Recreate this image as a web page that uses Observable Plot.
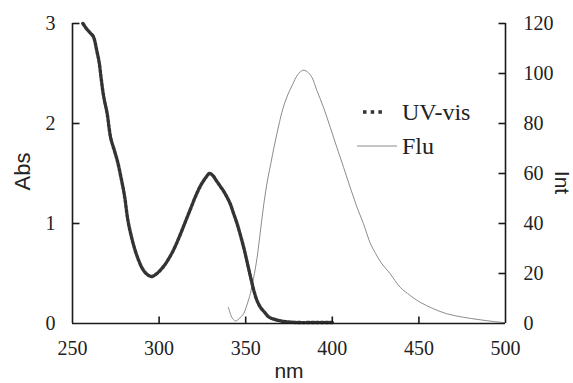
<!DOCTYPE html>
<html>
<head>
<meta charset="utf-8">
<script src="https://cdn.jsdelivr.net/npm/d3@7"></script>
<script src="https://cdn.jsdelivr.net/npm/@observablehq/plot@0.6"></script>
<style>
  html, body { margin: 0; padding: 0; background: #fff; }
  #wrap { position: relative; width: 573px; height: 383px; overflow: hidden; }
  #legend { position: absolute; left: 0; top: 0; width: 573px; height: 383px; pointer-events: none; }
</style>
</head>
<body>
<div id="wrap"></div>
<script>
// UV-vis absorption (Abs) vs wavelength (nm)
const uvNm  = [256, 258, 260, 262, 264, 265.4, 266.7, 268, 270, 272, 274, 276, 278, 280, 282, 284, 286, 288, 290, 292, 294, 296, 298, 300, 303, 306, 309, 312, 315, 318, 321, 324, 327, 329, 331, 333, 335, 337, 339, 341, 343, 345, 347, 349, 351, 353, 355, 357, 359, 361, 363, 365, 367, 369, 372, 380, 390, 400];
const uvAbs = [3.0, 2.95, 2.91, 2.87, 2.73, 2.61, 2.43, 2.27, 2.10, 1.86, 1.74, 1.62, 1.46, 1.28, 1.03, 0.87, 0.74, 0.64, 0.56, 0.51, 0.48, 0.47, 0.49, 0.52, 0.58, 0.66, 0.76, 0.88, 1.01, 1.14, 1.27, 1.38, 1.46, 1.50, 1.48, 1.43, 1.38, 1.33, 1.27, 1.20, 1.10, 1.00, 0.88, 0.75, 0.60, 0.45, 0.31, 0.21, 0.15, 0.11, 0.07, 0.05, 0.04, 0.03, 0.02, 0.01, 0.01, 0.01];

// Fluorescence intensity (Int) vs wavelength (nm)
const fluNm  = [340, 342, 344, 346, 348.8, 350.5, 352.7, 354.5, 356.5, 358.5, 360.5, 362.5, 364.5, 366.5, 369, 371.5, 374, 377, 380, 383, 385.5, 388.2, 391.1, 394.9, 398.8, 402.6, 406.5, 410.3, 414, 418, 422, 425, 428, 433.4, 439.2, 445, 450.7, 458.4, 466.1, 475.7, 485.3, 493, 500];
const fluInt = [6.5, 2.5, 1.0, 1.8, 3.9, 7, 12, 18, 26, 37, 48, 57, 64, 71, 79, 86, 91, 95.5, 99.5, 101.3, 100.7, 98.5, 93.2, 86.5, 78.5, 70.5, 62.5, 54.5, 47, 39.9, 32, 28, 24.5, 19.9, 14.5, 11.2, 8.5, 5.9, 3.9, 2.5, 1.5, 0.8, 0.3];

const xTicks   = [250, 300, 350, 400, 450, 500];
const absTicks = [0, 1, 2, 3];
const intTicks = [0, 20, 40, 60, 80, 100, 120];
const absMax = 3, intMax = 120;

const W = 573, H = 383, mL = 72, mR = 68, mT = 23, mB = 60;
const xDomain = [250, 500], yDomain = [0, absMax];

const uv  = uvNm.map((x, i) => ({x, y: uvAbs[i]}));
const flu = fluNm.map((x, i) => ({x, y: fluInt[i] * absMax / intMax}));

// same mapping as Plot's scales, used to express the 7px inward tick length in data units
const xs = d3.scaleLinear(xDomain, [mL, W - mR]);
const ys = d3.scaleLinear(yDomain, [H - mB, mT]);
const tickLen = 7;
const tx = xs.invert(mL + tickLen) - xDomain[0];
const ty = ys.invert(H - mB - tickLen) - yDomain[0];

const axisColor = "#1a1a1a";
const serif = "'Liberation Serif', 'Times New Roman', serif";
const sans = "'Liberation Sans', Arial, sans-serif";

const xTickData = xTicks.slice(1, -1).map(v => ({x1: v, x2: v, y1: 0, y2: ty}));
const lTickData = absTicks.slice(1).map(v => ({x1: xDomain[0], x2: xDomain[0] + tx, y1: v, y2: v}));
const rTickData = intTicks.slice(1).map(v => v * absMax / intMax).map(v => ({x1: xDomain[1] - tx, x2: xDomain[1], y1: v, y2: v}));
const tickData = [...xTickData, ...lTickData, ...rTickData];

const chart = Plot.plot({
  width: W, height: H,
  marginLeft: mL, marginRight: mR, marginTop: mT, marginBottom: mB,
  style: {background: "transparent", fontFamily: serif, fontSize: "20px", color: "#222"},
  x: {domain: xDomain},
  y: {domain: yDomain},
  marks: [
    Plot.line(flu, {x: "x", y: "y", stroke: "#8c8c8c", strokeWidth: 1, curve: "catmull-rom"}),
    Plot.line(uv, {x: "x", y: "y", stroke: "#333", strokeWidth: 3.4, strokeDasharray: "2.8,1.8", curve: "catmull-rom"}),
    Plot.ruleX(xDomain, {stroke: axisColor, strokeWidth: 1.6}),
    Plot.ruleY([0], {stroke: axisColor, strokeWidth: 1.6}),
    // inward ticks
    Plot.link(tickData, {x1: "x1", y1: "y1", x2: "x2", y2: "y2", stroke: axisColor, strokeWidth: 1.6}),
    // tick labels
    Plot.axisX({ticks: xTicks, tickSize: 0, tickPadding: 17, label: null, fontFamily: serif, fontSize: 20, fill: "#222"}),
    Plot.axisY({anchor: "left", ticks: absTicks, tickFormat: d => String(d), tickSize: 0, tickPadding: 17, label: null, fontFamily: serif, fontSize: 20, fill: "#222"}),
    Plot.axisY({anchor: "right", ticks: intTicks.map(v => v * absMax / intMax), tickFormat: d => String(Math.round(d * intMax / absMax)), tickSize: 0, tickPadding: 18, label: null, fontFamily: serif, fontSize: 20, fill: "#222"}),
    // axis titles
    Plot.text(["Abs"], {frameAnchor: "left", dx: -50, dy: -2, rotate: -90, textAnchor: "middle", lineAnchor: "middle", text: d => d, fontFamily: sans, fontSize: 22, fill: "#222"}),
    Plot.text(["Int"], {frameAnchor: "right", dx: 56, dy: 9, rotate: 90, textAnchor: "middle", lineAnchor: "middle", text: d => d, fontFamily: sans, fontSize: 21, fill: "#222"}),
    Plot.text(["nm"], {frameAnchor: "bottom", dy: 48, textAnchor: "middle", lineAnchor: "middle", text: d => d, fontFamily: sans, fontSize: 21, fill: "#222"})
  ]
});
document.getElementById("wrap").appendChild(chart);

// Legend overlay
const legendItems = [
  {label: "UV-vis", dash: "3.5,4.2", width: 3.5, color: "#333", y: 112, x1: 363, x2: 386},
  {label: "Flu", dash: null, width: 1, color: "#8c8c8c", y: 146, x1: 357, x2: 397}
];
const svgNS = "http://www.w3.org/2000/svg";
const lg = document.createElementNS(svgNS, "svg");
lg.setAttribute("id", "legend");
lg.setAttribute("width", W); lg.setAttribute("height", H);
legendItems.forEach(it => {
  const ln = document.createElementNS(svgNS, "line");
  ln.setAttribute("x1", it.x1); ln.setAttribute("x2", it.x2);
  ln.setAttribute("y1", it.y); ln.setAttribute("y2", it.y);
  ln.setAttribute("stroke", it.color); ln.setAttribute("stroke-width", it.width);
  if (it.dash) ln.setAttribute("stroke-dasharray", it.dash);
  lg.appendChild(ln);
  const t = document.createElementNS(svgNS, "text");
  t.setAttribute("x", 402); t.setAttribute("y", it.y + 8);
  t.setAttribute("font-family", serif);
  t.setAttribute("font-size", 24);
  t.setAttribute("fill", "#222");
  t.textContent = it.label;
  lg.appendChild(t);
});
document.getElementById("wrap").appendChild(lg);
</script>
</body>
</html>
